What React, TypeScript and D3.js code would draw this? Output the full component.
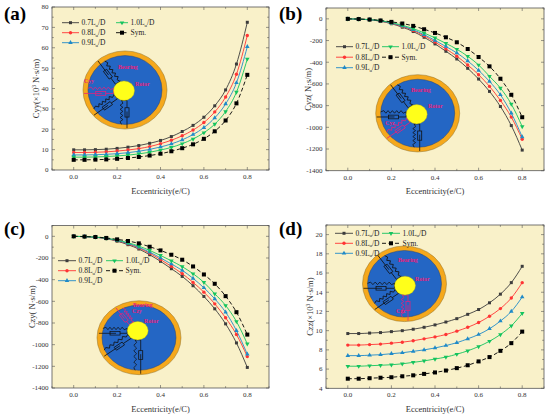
import React from 'react';
import * as d3 from 'd3';

const ecc = [0, 0.05, 0.1, 0.15, 0.2, 0.25, 0.3, 0.35, 0.4, 0.45, 0.5, 0.55, 0.6, 0.65, 0.7, 0.75, 0.8];
const seriesKeys = ['0.7', '0.8', '0.9', '1.0', 'Sym.'];

// (a) Cyy (x10^3 N·s/m)
const cyy07 = [9.9, 9.9, 10.0, 10.2, 10.6, 11.2, 12.0, 13.1, 14.5, 16.4, 18.9, 21.9, 25.9, 31.5, 39.3, 52.0, 72.5];
const cyy08 = [8.6, 8.6, 8.7, 8.9, 9.3, 9.8, 10.5, 11.5, 12.9, 14.6, 16.8, 19.6, 23.3, 28.5, 35.8, 47.0, 66.0];
const cyy09 = [7.4, 7.4, 7.5, 7.7, 8.0, 8.5, 9.2, 10.1, 11.3, 12.8, 14.8, 17.4, 20.8, 25.6, 32.4, 42.8, 60.5];
const cyy10 = [6.3, 6.3, 6.4, 6.6, 6.9, 7.3, 7.9, 8.7, 9.8, 11.1, 12.9, 15.2, 18.3, 22.5, 28.7, 38.2, 54.5];
const cyySym = [5.0, 5.0, 5.1, 5.2, 5.5, 5.9, 6.4, 7.1, 8.0, 9.2, 10.7, 12.6, 15.3, 19.0, 24.3, 32.7, 46.7];

// (b) Cyz (N·s/m)
const cyz07 = [0, -3, -9, -22, -45, -77, -117, -170, -231, -299, -370, -456, -555, -669, -808, -984, -1210];
const cyz08 = [0, -3, -8, -20, -41, -70, -107, -156, -214, -277, -344, -425, -515, -623, -752, -906, -1110];
const cyz09 = [0, -3, -8, -19, -39, -66, -101, -146, -199, -255, -314, -388, -475, -577, -700, -870, -1088];
const cyz10 = [0, -2, -7, -17, -35, -59, -90, -130, -176, -226, -280, -345, -425, -530, -638, -786, -993];
const cyzSym = [0, -2, -6, -15, -28, -43, -65, -96, -130, -170, -216, -278, -352, -438, -552, -700, -907];

// (c) Czy (N·s/m)
const czy07 = [0, -3, -9, -22, -45, -77, -117, -170, -231, -299, -370, -456, -555, -669, -808, -984, -1210];
const czy08 = [0, -3, -8, -20, -41, -70, -107, -156, -214, -277, -344, -425, -515, -623, -752, -906, -1110];
const czy09 = [0, -3, -8, -19, -39, -66, -101, -146, -199, -255, -314, -388, -475, -577, -700, -870, -1088];
const czy10 = [0, -2, -7, -17, -35, -59, -90, -130, -176, -226, -280, -345, -425, -530, -638, -786, -993];
const czySym = [0, -2, -6, -15, -28, -43, -65, -96, -130, -170, -216, -278, -352, -438, -552, -700, -907];

// (d) Czz (x10^3 N·s/m)
const czz07 = [9.7, 9.7, 9.75, 9.8, 9.9, 10.0, 10.15, 10.35, 10.6, 10.9, 11.25, 11.7, 12.2, 12.9, 13.8, 15.0, 16.7];
const czz08 = [8.5, 8.5, 8.55, 8.6, 8.7, 8.8, 8.95, 9.15, 9.35, 9.6, 9.95, 10.35, 10.85, 11.5, 12.3, 13.4, 15.0];
const czz09 = [7.4, 7.4, 7.45, 7.5, 7.6, 7.7, 7.85, 8.0, 8.2, 8.45, 8.75, 9.15, 9.6, 10.2, 11.0, 12.0, 13.5];
const czz10 = [6.3, 6.3, 6.35, 6.4, 6.45, 6.55, 6.7, 6.85, 7.05, 7.25, 7.55, 7.9, 8.35, 8.9, 9.6, 10.5, 11.8];
const czzSym = [5.0, 5.0, 5.05, 5.1, 5.15, 5.25, 5.35, 5.5, 5.65, 5.85, 6.1, 6.4, 6.8, 7.25, 7.9, 8.7, 9.9];

const xTicks = [0, 0.2, 0.4, 0.6, 0.8];
const yTicksA = [0, 10, 20, 30, 40, 50, 60, 70, 80];
const yTicksB = [0, -200, -400, -600, -800, -1000, -1200, -1400];
const yTicksD = [4, 6, 8, 10, 12, 14, 16, 18, 20];

const COLORS: Record<string, string> = { '0.7': '#3c3c3c', '0.8': '#ff3434', '0.9': '#1f8ac8', '1.0': '#14c45e', 'Sym.': '#000000' };
const SYMS: Record<string, any> = { '0.7': d3.symbolSquare, '0.8': d3.symbolCircle, '0.9': d3.symbolTriangle, '1.0': d3.symbolTriangle, 'Sym.': d3.symbolSquare };
const FONT = '"Liberation Serif", "Times New Roman", serif';
const PINK = '#e8207a';
const BG = '#f9f1c9';

function Marker({ k, x, y, size = 9 }: { k: string; x: number; y: number; size?: number }) {
  const p = d3.symbol().type(SYMS[k]).size(k === 'Sym.' ? size * 1.8 : size)() as string;
  const rot = k === '1.0' ? 180 : 0;
  return <path d={p} transform={`translate(${x},${y}) rotate(${rot})`} fill={COLORS[k]} />;
}

function LegendLabel({ k }: { k: string }) {
  if (k === 'Sym.') return <>Sym.</>;
  return (
    <>
      {k}L<tspan fontSize={5} dy={1.5}>u</tspan><tspan dy={-1.5}>/D</tspan>
    </>
  );
}

function Spring({ r0, r1, off }: { r0: number; r1: number; off: number }) {
  const n = 9;
  const pts: [number, number][] = [[r0, off]];
  const a = r0 + 3, b = r1 - 3;
  for (let i = 0; i <= n; i++) {
    const t = a + ((b - a) * i) / n;
    pts.push([t, off + (i % 2 === 0 ? -1.4 : 1.4)]);
  }
  pts.push([r1, off]);
  return <path d={d3.line()(pts) as string} fill="none" />;
}

function Element({ angle, r0, r1, color }: { angle: number; r0: number; r1: number; color: string }) {
  const mid = (r0 + r1) / 2;
  return (
    <g transform={`rotate(${angle})`} stroke={color} strokeWidth={0.8} fill="none">
      <line x1={r0} y1={-3} x2={r0} y2={3} />
      <line x1={r0} y1={-3} x2={mid - 5} y2={-3} />
      <rect x={mid - 5} y={-5} width={10} height={4} />
      <line x1={mid - 1} y1={-3} x2={r1 + 4} y2={-3} />
      <Spring r0={r0} r1={r1} off={2.5} />
    </g>
  );
}

type InsetProps = {
  cx: number; cy: number; k: number; rdx: number; rdy: number; hl: number; label: string;
  labelPos: [number, number]; bearingPos: [number, number]; rotorPos: [number, number];
};

function Inset({ cx, cy, k, rdx, rdy, hl, label, labelPos, bearingPos, rotorPos }: InsetProps) {
  const R = 42, Ri = 37, rr = 10.5;
  const angles = [-125, 180, 143, 90];
  return (
    <g>
      <g transform={`translate(${cx},${cy}) scale(1,${k})`}>
        <circle r={R} fill="#f5a81c" stroke="#8a6a20" strokeWidth={0.5} />
        <circle r={Ri} fill="#2466c4" stroke="#1b3f7a" strokeWidth={0.5} />
        <g transform={`translate(${rdx},${rdy})`}>
          {angles.map((a, i) => {
            const rad = (a * Math.PI) / 180;
            const ux = Math.cos(rad), uy = Math.sin(rad);
            const bdot = rdx * ux + rdy * uy;
            const dist = -bdot + Math.sqrt(bdot * bdot - (rdx * rdx + rdy * rdy - Ri * Ri));
            return <Element key={i} angle={a} r0={rr} r1={dist} color={i === hl ? PINK : '#101010'} />;
          })}
          <circle r={rr} fill="#ffff1a" stroke="#c8b400" strokeWidth={0.4} />
        </g>
      </g>
      <g fontFamily={FONT} fontWeight="bold" fill={PINK} fontSize={5.8}>
        <text x={bearingPos[0]} y={bearingPos[1]}>Bearing</text>
        <text x={rotorPos[0]} y={rotorPos[1]}>Rotor</text>
        <text x={labelPos[0]} y={labelPos[1]}>{label}</text>
      </g>
    </g>
  );
}

type PanelProps = {
  tag: string; left: number; right: number; top: number; bottom: number;
  yDomain: [number, number]; yTicks: number[]; yMinorStep: number;
  series: Record<string, number[]>;
  yLabel: React.ReactNode; yLabelX: number;
  legend: { x1: number; x2: number; y: number; dy: number; len1: number; len2: number };
  inset: InsetProps;
  tagY: number; tagX: number;
};

function Panel(p: PanelProps) {
  const x = d3.scaleLinear().domain([-0.1, 0.9]).range([p.left, p.right]);
  const y = d3.scaleLinear().domain(p.yDomain).range([p.bottom, p.top]);
  const line = d3.line<number>().x((_, i) => x(ecc[i])).y((v) => y(v)).curve(d3.curveMonotoneX);
  const xMinor = d3.range(-0.1, 0.91, 0.1).filter((v) => !xTicks.some((t) => Math.abs(t - v) < 1e-6));
  const yMinor: number[] = [];
  for (let v = p.yTicks[0] - p.yMinorStep; v <= p.yDomain[1] + 1e-6; v += p.yMinorStep) {
    if (v >= p.yDomain[0] && v <= p.yDomain[1] && !p.yTicks.some((t) => Math.abs(t - v) < 1e-6)) yMinor.push(v);
  }
  const tl = 3, tm = 1.8;
  const axisColor = '#555';
  const rows: [string, number, number][] = [
    ['0.7', 0, 0], ['1.0', 1, 0], ['0.8', 0, 1], ['Sym.', 1, 1], ['0.9', 0, 2],
  ];
  const midX = (p.left + p.right) / 2;
  const midY = (p.top + p.bottom) / 2;
  return (
    <g>
      <rect x={p.left} y={p.top} width={p.right - p.left} height={p.bottom - p.top} fill={BG} />
      <Inset {...p.inset} />
      {seriesKeys.map((k) => (
        <g key={k}>
          <path d={line(p.series[k]) as string} fill="none" stroke={COLORS[k]} strokeWidth={0.9}
            strokeDasharray={k === 'Sym.' ? '4,2.5' : undefined} />
          {p.series[k].map((v, i) => <Marker key={i} k={k} x={x(ecc[i])} y={y(v)} />)}
        </g>
      ))}
      <g fontFamily={FONT} fontSize={7.5} fill="#222">
        {rows.map(([k, col, row]) => {
          const sx = col === 0 ? p.legend.x1 : p.legend.x2;
          const len = col === 0 ? p.legend.len1 : p.legend.len2;
          const yy = p.legend.y + row * p.legend.dy;
          return (
            <g key={k}>
              <line x1={sx} x2={sx + len} y1={yy} y2={yy} stroke={COLORS[k]} strokeWidth={0.9}
                strokeDasharray={k === 'Sym.' ? '4,2.5' : undefined} />
              <Marker k={k} x={sx + len / 2} y={yy} />
              <text x={sx + len + 2.5} y={yy + 2.6}><LegendLabel k={k} /></text>
            </g>
          );
        })}
      </g>
      <rect x={p.left} y={p.top} width={p.right - p.left} height={p.bottom - p.top} fill="none" stroke={axisColor} strokeWidth={0.8} />
      <g stroke={axisColor} strokeWidth={0.6}>
        {xTicks.map((t) => (
          <g key={'xt' + t}>
            <line x1={x(t)} x2={x(t)} y1={p.bottom} y2={p.bottom - tl} />
            <line x1={x(t)} x2={x(t)} y1={p.top} y2={p.top + tl} />
          </g>
        ))}
        {xMinor.map((t) => (
          <g key={'xm' + t}>
            <line x1={x(t)} x2={x(t)} y1={p.bottom} y2={p.bottom - tm} />
            <line x1={x(t)} x2={x(t)} y1={p.top} y2={p.top + tm} />
          </g>
        ))}
        {p.yTicks.map((t) => (
          <g key={'yt' + t}>
            <line x1={p.left} x2={p.left + tl} y1={y(t)} y2={y(t)} />
            <line x1={p.right} x2={p.right - tl} y1={y(t)} y2={y(t)} />
          </g>
        ))}
        {yMinor.map((t) => (
          <g key={'ym' + t}>
            <line x1={p.left} x2={p.left + tm} y1={y(t)} y2={y(t)} />
            <line x1={p.right} x2={p.right - tm} y1={y(t)} y2={y(t)} />
          </g>
        ))}
      </g>
      <g fontFamily={FONT} fontSize={7} fill="#333">
        {xTicks.map((t) => (
          <text key={'xl' + t} x={x(t)} y={p.bottom + 8.8} textAnchor="middle">{d3.format('.1f')(t)}</text>
        ))}
        {p.yTicks.map((t) => (
          <text key={'yl' + t} x={p.left - 3.5} y={y(t) + 2.4} textAnchor="end">{t}</text>
        ))}
      </g>
      <text x={midX} y={p.bottom + 23.5} textAnchor="middle" fontFamily={FONT} fontSize={8.5} fill="#333">Eccentricity(e/C)</text>
      <text transform={`translate(${p.yLabelX},${midY}) rotate(-90)`} textAnchor="middle" fontFamily={FONT} fontSize={8.5} fill="#333">{p.yLabel}</text>
      <text x={p.tagX} y={p.tagY} fontFamily={FONT} fontWeight="bold" fontSize={19} fill="#000">{p.tag}</text>
    </g>
  );
}

export default function App() {
  const yLabA = <>Cyy(×10<tspan fontSize={5.5} dy={-3}>3</tspan><tspan dy={3}> N·s/m)</tspan></>;
  const yLabD = <>Czz(×10<tspan fontSize={5.5} dy={-3}>3</tspan><tspan dy={3}> N·s/m)</tspan></>;
  return (
    <svg width={550} height={416} style={{ position: 'absolute', left: 0, top: 0, background: '#fff' }}>
      <Panel tag="(a)" tagX={4} tagY={20} left={52} right={269} top={7} bottom={170}
        yDomain={[0, 80]} yTicks={yTicksA} yMinorStep={5}
        series={{ '0.7': cyy07, '0.8': cyy08, '0.9': cyy09, '1.0': cyy10, 'Sym.': cyySym }}
        yLabel={yLabA} yLabelX={39}
        legend={{ x1: 62, x2: 116, y: 22.7, dy: 10, len1: 17, len2: 12 }}
        inset={{ cx: 125, cy: 90, k: 0.93, rdx: -1, rdy: 0.7, hl: 1, label: 'Cyy',
          labelPos: [84, 83], bearingPos: [118, 69], rotorPos: [135, 86] }} />
      <Panel tag="(b)" tagX={279} tagY={20} left={326} right={544} top={8} bottom={170.7}
        yDomain={[-1400, 100]} yTicks={yTicksB} yMinorStep={100}
        series={{ '0.7': cyz07, '0.8': cyz08, '0.9': cyz09, '1.0': cyz10, 'Sym.': cyzSym }}
        yLabel="Cyz( N·s/m)" yLabelX={311}
        legend={{ x1: 336, x2: 382, y: 46.7, dy: 10.5, len1: 17, len2: 17 }}
        inset={{ cx: 417.7, cy: 113.3, k: 0.92, rdx: -1, rdy: 1, hl: 2, label: 'Cyz',
          labelPos: [385, 125], bearingPos: [411, 92], rotorPos: [428, 108] }} />
      <Panel tag="(c)" tagX={4} tagY={235} left={52} right={269} top={225.5} bottom={388}
        yDomain={[-1400, 100]} yTicks={yTicksB} yMinorStep={100}
        series={{ '0.7': czy07, '0.8': czy08, '0.9': czy09, '1.0': czy10, 'Sym.': czySym }}
        yLabel="Czy( N·s/m)" yLabelX={35}
        legend={{ x1: 58, x2: 106, y: 260.7, dy: 10, len1: 18, len2: 17 }}
        inset={{ cx: 139, cy: 337.7, k: 0.88, rdx: -1.3, rdy: -8, hl: 0, label: 'Czy',
          labelPos: [132, 313], bearingPos: [133, 307], rotorPos: [144, 323] }} />
      <Panel tag="(d)" tagX={279} tagY={235} left={326} right={544} top={225} bottom={388.3}
        yDomain={[4, 21]} yTicks={yTicksD} yMinorStep={1}
        series={{ '0.7': czz07, '0.8': czz08, '0.9': czz09, '1.0': czz10, 'Sym.': czzSym }}
        yLabel={yLabD} yLabelX={313}
        legend={{ x1: 335, x2: 382, y: 233.3, dy: 10, len1: 18, len2: 18 }}
        inset={{ cx: 404.5, cy: 283.8, k: 0.9, rdx: 0.5, rdy: 2, hl: 3, label: 'Czz',
          labelPos: [396, 313], bearingPos: [398, 262], rotorPos: [415, 281] }} />
    </svg>
  );
}
